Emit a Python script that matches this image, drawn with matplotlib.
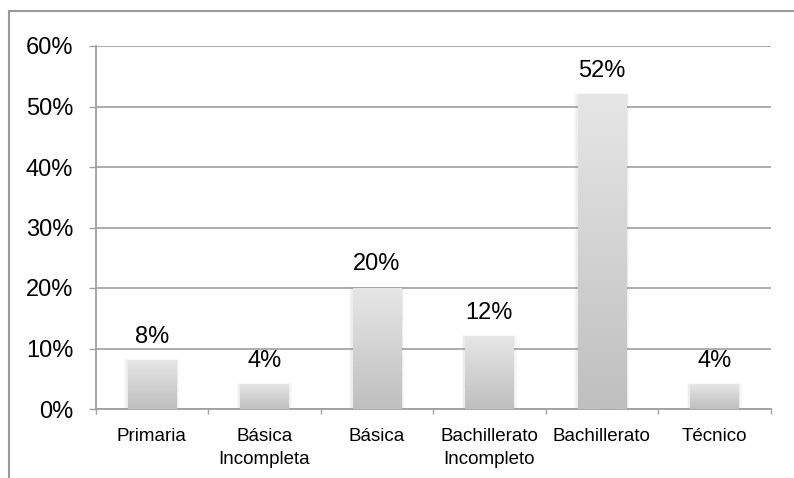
import numpy as np
import matplotlib
matplotlib.use("Agg")
import matplotlib.pyplot as plt
from matplotlib.lines import Line2D
from matplotlib.colors import LinearSegmentedColormap
from matplotlib.ticker import PercentFormatter

plt.rcParams['font.family'] = ['Liberation Sans', 'DejaVu Sans']

# data
categories = ["Primaria", "Básica\nIncompleta", "Básica", "Bachillerato\nIncompleto",
              "Bachillerato", "Técnico"]
values = [8, 4, 20, 12, 52, 4]
labels = ["8%", "4%", "20%", "12%", "52%", "4%"]
yticks = [0, 10, 20, 30, 40, 50, 60]

fig = plt.figure(figsize=(7.94, 4.78), dpi=100)
ax = fig.add_axes([95.5 / 794, 1 - 409 / 478, 675 / 794, 363 / 478])

x = np.arange(len(categories))
bar_w = 0.43
grad_cmap = LinearSegmentedColormap.from_list("bar", ["#bfbfbf", "#e6e6e6"])
grad = np.linspace(0, 1, 256).reshape(-1, 1)

for xi, v, lab in zip(x, values, labels):
    # soft shadow
    for k, a in [(0.03, 0.06), (0.015, 0.08)]:
        ax.add_patch(plt.Rectangle((xi - bar_w / 2 - k, 0), bar_w + 2 * k, v + k * 8,
                                   color="#808080", alpha=a, lw=0, zorder=2))
    ax.imshow(grad, extent=[xi - bar_w / 2, xi + bar_w / 2, 0, v], origin="lower",
              aspect="auto", cmap=grad_cmap, zorder=3)
    ax.annotate(lab, (xi, v), xytext=(0, 9), textcoords="offset points",
                ha="center", va="bottom", fontsize=17, color="#000000")

ax.set_xlim(-0.5, len(categories) - 0.5)
ax.set_ylim(0, 60)
ax.set_yticks(yticks)
ax.yaxis.set_major_formatter(PercentFormatter(decimals=0))
ax.grid(axis="y", color="#a6a6a6", lw=1.3, zorder=1)
ax.set_axisbelow(True)

ax.set_xticks(np.arange(len(categories) + 1) - 0.5)
ax.set_xticklabels([])
ax.set_xticks(x, minor=True)
ax.set_xticklabels(categories, minor=True, fontsize=13.5, linespacing=1.4)
ax.tick_params(axis="x", which="major", length=3.5, width=1, color="#a0a0a0", direction="out")
ax.tick_params(axis="x", which="minor", length=0, pad=14)
ax.tick_params(axis="y", length=5, width=1, color="#a0a0a0", pad=11, labelsize=17)

for s in ["top", "right"]:
    ax.spines[s].set_visible(False)
for s in ["left", "bottom"]:
    ax.spines[s].set_color("#a0a0a0")
    ax.spines[s].set_linewidth(1.3)

# outer chart border (top and left)
fig.add_artist(Line2D([9 / 794, 1], [1 - 11 / 478] * 2, color="#9a9a9a", lw=1.5))
fig.add_artist(Line2D([9 / 794] * 2, [0, 1 - 11 / 478], color="#9a9a9a", lw=1.5))

fig.savefig("out.png", dpi=100)
